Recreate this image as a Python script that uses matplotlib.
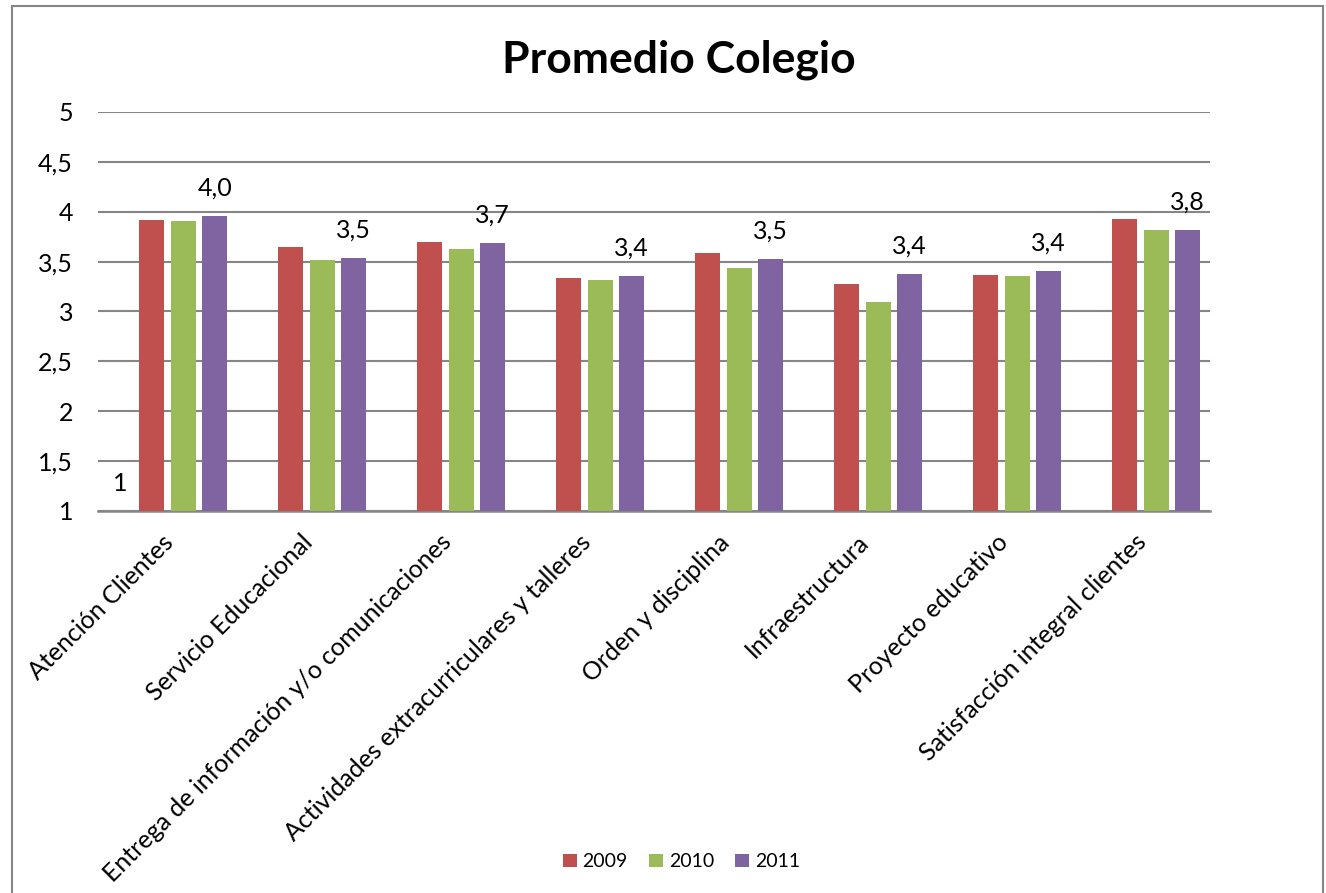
import matplotlib
matplotlib.use("Agg")
import matplotlib.pyplot as plt
from matplotlib.patches import Rectangle
import numpy as np

plt.rcParams['font.family'] = ['Lato', 'DejaVu Sans']

categorias = [
    "Atención Clientes",
    "Servicio Educacional",
    "Entrega de información y/o comunicaciones",
    "Actividades extracurriculares y talleres",
    "Orden y disciplina",
    "Infraestructura",
    "Proyecto educativo",
    "Satisfacción integral clientes",
]
anios = ["2009", "2010", "2011"]
v2009 = [3.92, 3.65, 3.70, 3.34, 3.59, 3.28, 3.37, 3.93]
v2010 = [3.91, 3.52, 3.63, 3.32, 3.44, 3.10, 3.36, 3.82]
v2011 = [3.96, 3.54, 3.69, 3.36, 3.53, 3.38, 3.41, 3.82]
serie_oculta = [1]  # serie sin barra visible, solo muestra su etiqueta
colores = ["#C0504D", "#9BBB59", "#8064A2"]
y_ticks = [1, 1.5, 2, 2.5, 3, 3.5, 4, 4.5, 5]

fig = plt.figure(figsize=(13.26, 8.93), dpi=100)
ax = fig.add_axes([0.0739, 0.4278, 0.8386, 0.4468])

x = np.arange(len(categorias))
paso = 0.226
ancho = 0.18

# serie oculta (valor 1 = minimo del eje)
for i, v in enumerate(serie_oculta):
    ax.annotate(f"{v:g}", (x[i] - 1.5 * paso, v), xytext=(0, 20), textcoords="offset points",
                ha="center", va="center", fontsize=18)

for k, (vals, col, lab) in enumerate(zip([v2009, v2010, v2011], colores, anios)):
    pos = x + (k - 0.5) * paso
    ax.bar(pos, np.array(vals) - 1, bottom=1, width=ancho, color=col, label=lab, zorder=3)
    if lab == "2011":
        for px, v in zip(pos, vals):
            ax.annotate(f"{v:.1f}".replace(".", ","), (px, v), xytext=(0, 20),
                        textcoords="offset points", ha="center", va="center", fontsize=18)

ax.set_xlim(-0.5, len(categorias) - 0.5)
ax.set_ylim(1, 5)
ax.set_yticks(y_ticks)
ax.set_yticklabels([f"{t:g}".replace(".", ",") for t in y_ticks], fontsize=18)
ax.yaxis.grid(True, color="#868686", linewidth=1.5, zorder=0)
ax.set_axisbelow(True)
for s in ["top", "right", "left"]:
    ax.spines[s].set_visible(False)
ax.spines["bottom"].set_color("#868686")
ax.spines["bottom"].set_linewidth(1.8)
ax.tick_params(axis="y", length=0, pad=18)
ax.tick_params(axis="x", length=0, pad=14)
ax.set_xticks(x - 0.04)
ax.set_xticklabels(categorias, rotation=45, ha="right", va="top",
                   rotation_mode="anchor", fontsize=18)

fig.text(0.512, 0.933, "Promedio Colegio", ha="center", va="center",
         fontsize=32, fontweight="bold")

fig.legend(loc="center", bbox_to_anchor=(0.514, 0.035), ncol=3, frameon=False,
           fontsize=14, handlelength=0.7, handleheight=0.7, columnspacing=1.1,
           handletextpad=0.3)

fig.patches.append(Rectangle((12 / 1326, -0.1), 1311 / 1326, 1.1 - 6 / 893,
                             transform=fig.transFigure, fill=False,
                             edgecolor="#868686", linewidth=1.5))

fig.savefig("out.png", dpi=100)
